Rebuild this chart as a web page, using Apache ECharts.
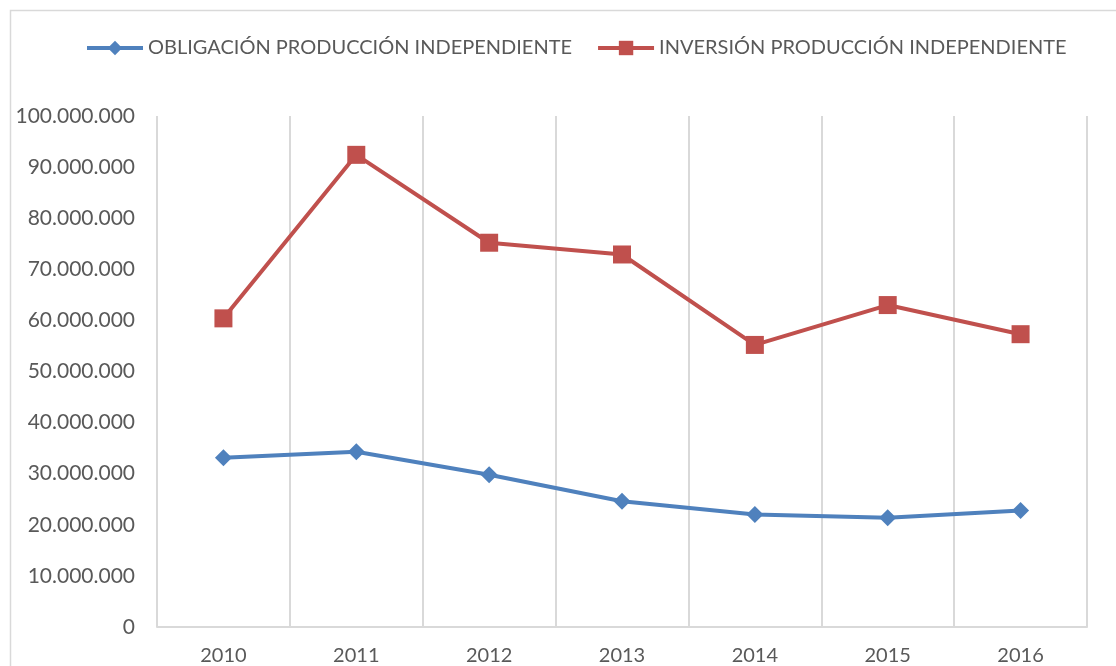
<!DOCTYPE html>
<html>
<head>
<meta charset="utf-8">
<script src="https://cdn.jsdelivr.net/npm/echarts@6/dist/echarts.min.js"></script>
<style>
  html, body { margin: 0; padding: 0; background: #fff; }
  #chart { width: 1116px; height: 666px; }
</style>
</head>
<body>
<div id="chart"></div>
<script>
const years = ['2010', '2011', '2012', '2013', '2014', '2015', '2016'];
const obligacion = [33100000, 34300000, 29800000, 24600000, 22000000, 21400000, 22800000];
const inversion = [60400000, 92400000, 75200000, 72900000, 55200000, 63000000, 57300000];

const grey = '#d9d9d9';
const txt = '#595959';

function fmt(v) {
  return String(v).replace(/\B(?=(\d{3})+(?!\d))/g, '.');
}

const chart = echarts.init(document.getElementById('chart'));
chart.setOption({
  animation: false,
  textStyle: { fontFamily: 'Lato' },
  graphic: [{
    type: 'rect',
    shape: { x: 10.5, y: 10.5, width: 1120, height: 680 },
    style: { fill: 'none', stroke: grey, lineWidth: 1.5 },
    silent: true
  }],
  legend: {
    top: 33,
    left: 80,
    itemGap: 24,
    itemWidth: 56,
    itemHeight: 18,
    lineStyle: { width: 4 },
    textStyle: { color: txt, fontSize: 20, fontFamily: 'Lato' },
    data: ['OBLIGACIÓN PRODUCCIÓN INDEPENDIENTE', 'INVERSIÓN PRODUCCIÓN INDEPENDIENTE']
  },
  grid: { left: 157, right: 29, top: 116, bottom: 37 },
  xAxis: {
    type: 'category',
    data: years,
    boundaryGap: true,
    axisLine: { lineStyle: { color: grey, width: 2 } },
    axisTick: { show: false },
    splitLine: { show: true, lineStyle: { color: grey, width: 2 } },
    axisLabel: { color: txt, fontSize: 20, margin: 19 }
  },
  yAxis: {
    type: 'value',
    min: 0,
    max: 100000000,
    interval: 10000000,
    axisLine: { show: false },
    axisTick: { show: false },
    splitLine: { show: false },
    axisLabel: { color: txt, fontSize: 21, margin: 22, formatter: fmt }
  },
  series: [
    {
      name: 'OBLIGACIÓN PRODUCCIÓN INDEPENDIENTE',
      type: 'line',
      data: obligacion,
      symbol: 'diamond',
      symbolSize: 17,
      lineStyle: { color: '#4F81BD', width: 4 },
      itemStyle: { color: '#4F81BD' }
    },
    {
      name: 'INVERSIÓN PRODUCCIÓN INDEPENDIENTE',
      type: 'line',
      data: inversion,
      symbol: 'rect',
      symbolSize: 18,
      lineStyle: { color: '#C0504D', width: 4 },
      itemStyle: { color: '#C0504D' }
    }
  ]
});
</script>
</body>
</html>
